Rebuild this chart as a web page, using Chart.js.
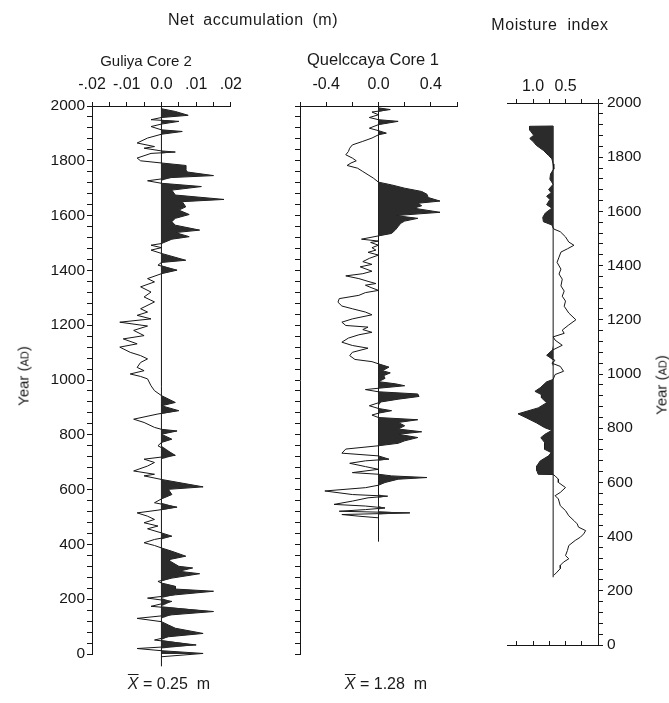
<!DOCTYPE html>
<html>
<head>
<meta charset="utf-8">
<script src="https://cdn.jsdelivr.net/npm/chart.js@4.4.1/dist/chart.umd.min.js"></script>
<style>
  body { margin: 0; background: #fff; width: 669px; height: 703px; position: relative; overflow: hidden;
         font-family: "Liberation Sans", Arial, Helvetica, sans-serif; color: #1a1a1a; }
  canvas { position: absolute; top: 0; }
  .t { position: absolute; white-space: nowrap; transform: translate(-50%, -50%); }
  .rot { transform: translate(-50%, -50%) rotate(-90deg); }
  .sc { font-size: 11px; }
</style>
</head>
<body>
<canvas id="guliya" width="250" height="703" style="left:0"></canvas>
<canvas id="quelccaya" width="230" height="703" style="left:250px"></canvas>
<canvas id="moisture" width="189" height="703" style="left:480px"></canvas>

<div class="t" style="left:253px;top:20px;font-size:16px;letter-spacing:0.5px;word-spacing:4px">Net accumulation (m)</div>
<div class="t" style="left:550px;top:25px;font-size:16px;letter-spacing:0.6px;word-spacing:5px">Moisture index</div>
<div class="t" style="left:146px;top:60px;font-size:15px">Guliya Core 2</div>
<div class="t" style="left:373px;top:59px;font-size:16.5px">Quelccaya Core 1</div>
<div class="t" style="left:169px;top:684px;font-size:16px"><span style="text-decoration:overline;font-style:italic">X</span> = 0.25&nbsp; m</div>
<div class="t" style="left:386px;top:684px;font-size:16px"><span style="text-decoration:overline;font-style:italic">X</span> = 1.28&nbsp; m</div>
<div class="t rot" style="left:23px;top:376px;font-size:15px">Year (<span class="sc">AD</span>)</div>
<div class="t rot" style="left:661px;top:385px;font-size:15px">Year (<span class="sc">AD</span>)</div>

<script>
// Guliya Core 2 net accumulation anomaly (m)
const guliyaYears = [1990, 1980, 1966, 1958, 1950, 1944, 1934, 1925, 1913, 1907, 1897, 1883, 1865, 1852, 1846, 1836, 1832, 1827, 1810, 1800,
  1792, 1783, 1767, 1759, 1746, 1739, 1727, 1718, 1706, 1693, 1675, 1659, 1651, 1632, 1620, 1604, 1590, 1578, 1565, 1547,
  1538, 1523, 1514, 1498, 1492, 1483, 1474, 1462, 1437, 1429, 1419, 1401, 1388, 1370, 1358, 1340, 1321, 1303, 1285, 1260,
  1248, 1236, 1223, 1211, 1197, 1181, 1162, 1150, 1132, 1120, 1101, 1089, 1077, 1064, 1046, 1034, 1022, 1013, 1004, 979,
  961, 943, 918, 906, 888, 876, 857, 845, 827, 820, 814, 802, 784, 772, 760, 725, 711, 699, 686, 668,
  656, 650, 637, 610, 601, 582, 566, 552, 536, 525, 515, 503, 491, 479, 467, 457, 442, 430, 418, 406,
  396, 387, 375, 357, 344, 335, 320, 314, 302, 293, 277, 265, 259, 247, 237, 229, 216, 204, 192, 174,
  155, 143, 130, 118, 106, 94, 75, 63, 51, 33, 20, 12, 2, -10];
const guliyaNet = [0, 0.004, 0.0077, 0, -0.003, 0.005, 0, -0.003, 0, 0.006, 0, -0.004, -0.007, -0.002, -0.005, 0, 0.004, -0.003, -0.007, -0.006,
  0, 0.007, 0.007, 0.0075, 0.015, 0.003, -0.004, 0, 0.0115, 0.003, 0.004, 0.018, 0.006, 0.007, 0.005, 0.008, 0.004, 0.003, 0.004, 0.011,
  0.004, 0.008, 0.003, 0, -0.003, 0, -0.003, 0, 0.007, 0, -0.001, 0.0045, 0, -0.004, -0.002, -0.006, -0.003, -0.005, -0.002, -0.006,
  -0.004, -0.007, -0.003, -0.012, -0.004, -0.008, -0.005, -0.011, -0.007, -0.012, -0.009, -0.006, -0.004, -0.006, -0.007, -0.005, -0.009, -0.006, -0.004, -0.003,
  -0.002, 0, 0.004, 0, 0.005, -0.001, -0.008, -0.005, -0.002, 0, 0.0045, 0, 0.003, 0, -0.001, 0.004, -0.005, -0.002, -0.004, -0.008,
  -0.002, -0.005, 0, 0.012, 0.002, 0.003, 0, -0.002, 0.0045, -0.001, -0.007, -0.004, -0.002, -0.005, -0.001, -0.004, 0, 0.003, -0.002, -0.005,
  -0.002, 0, 0.003, 0.007, 0.002, 0.003, 0.005, 0.009, 0.005, 0.011, 0.003, -0.001, 0, 0.004, 0.004, 0.015, 0.004, -0.004, 0.003, -0.003,
  0.015, 0.003, -0.007, 0, 0.002, 0.004, 0.012, 0.002, -0.002, 0.01, -0.007, 0, 0.012, 0];
const guliyaZeroSpan = [-45, 2000];

// Quelccaya Core 1 net accumulation anomaly (m)
const quelYears = [1993, 1987, 1978, 1968, 1958, 1950, 1944, 1932, 1919, 1910, 1901, 1895, 1883, 1871, 1858, 1846, 1834, 1822, 1810, 1800,
  1792, 1783, 1773, 1761, 1749, 1737, 1722, 1712, 1700, 1688, 1678, 1666, 1653, 1645, 1636, 1627, 1612, 1600, 1590, 1580,
  1572, 1560, 1548, 1535, 1526, 1514, 1507, 1502, 1492, 1483, 1474, 1466, 1456, 1444, 1432, 1422, 1413, 1397, 1388, 1380,
  1370, 1360, 1352, 1346, 1336, 1327, 1319, 1309, 1297, 1284, 1270, 1260, 1248, 1238, 1223, 1211, 1199, 1193, 1184, 1174,
  1165, 1153, 1138, 1126, 1116, 1101, 1089, 1075, 1067, 1059, 1047, 1034, 1026, 1016, 1006, 994, 986, 979, 970, 965,
  957, 949, 940, 930, 920, 906, 896, 888, 879, 872, 863, 855, 845, 833, 821, 811, 802, 790, 778, 769,
  760, 748, 733, 723, 711, 705, 696, 684, 674, 662, 656, 650, 644, 638, 626, 616, 607, 595, 582, 576,
  570, 558, 546, 540, 533, 527, 521, 515, 509, 503, 497];
const quelNet = [0, 0.09, -0.05, 0, -0.07, 0, 0.15, 0, -0.07, 0, 0.06, 0, -0.05, -0.12, -0.2, -0.22, -0.23, -0.25, -0.2, -0.17,
  -0.21, -0.24, -0.16, -0.12, -0.08, -0.04, 0, 0.1, 0.2, 0.33, 0.37, 0.38, 0.47, 0.3, 0.33, 0.27, 0.47, 0.13, 0.3, 0.2,
  0.17, 0.15, 0.13, 0.1, 0, -0.13, 0, -0.06, 0, -0.05, -0.02, -0.08, 0, -0.07, -0.12, -0.05, -0.14, -0.05, -0.12, -0.25,
  -0.15, -0.08, -0.02, -0.1, -0.05, 0, -0.1, -0.15, -0.3, -0.31, -0.28, -0.2, -0.1, -0.05, -0.2, -0.28, -0.25, -0.08, -0.12, -0.05,
  -0.15, -0.23, -0.28, -0.2, -0.08, -0.2, -0.22, -0.18, -0.05, 0, 0.08, 0.03, 0.09, 0.04, 0.05, 0, 0.13, 0.2, 0, -0.1,
  0, 0.3, 0.31, 0.15, 0.02, -0.07, 0, 0.1, 0, -0.05, 0, 0.3, 0.15, 0.2, 0.15, 0.33, 0.15, 0.3, 0.2, 0.15,
  0, -0.25, -0.28, 0, 0.08, -0.1, -0.22, -0.1, 0, -0.2, 0, 0.1, 0.37, 0.15, 0.05, 0, -0.1, -0.41, -0.2, 0.07,
  -0.08, -0.2, -0.34, -0.1, 0.05, -0.1, -0.3, 0.24, -0.28, -0.15, 0];
const quelZeroSpan = [410, 2000];

// Moisture index
const moistYears = [1915, 1914, 1900, 1881, 1869, 1856, 1844, 1825, 1806, 1794, 1775, 1756, 1738, 1719, 1700, 1681, 1669, 1656, 1644, 1625,
  1612, 1594, 1578, 1562, 1550, 1535, 1525, 1506, 1487, 1475, 1462, 1450, 1431, 1412, 1387, 1369, 1350, 1325, 1306, 1287,
  1269, 1250, 1225, 1200, 1181, 1162, 1150, 1137, 1125, 1106, 1087, 1069, 1050, 1040, 1028, 1010, 998, 980, 971, 949,
  936, 924, 912, 894, 875, 853, 838, 820, 802, 792, 777, 765, 747, 722, 710, 698, 679, 661, 643, 630,
  629, 624, 612, 600, 581, 563, 551, 539, 514, 496, 477, 459, 447, 435, 422, 410, 398, 386, 367, 349,
  330, 318, 306, 294, 282, 269, 257];
const moistIndex = [0.69, 1.05, 1.05, 0.99, 1.05, 0.99, 0.95, 0.84, 0.76, 0.71, 0.69, 0.68, 0.73, 0.74, 0.69, 0.76, 0.72, 0.79, 0.74, 0.79,
  0.71, 0.81, 0.85, 0.84, 0.71, 0.68, 0.58, 0.5, 0.45, 0.37, 0.47, 0.57, 0.6, 0.63, 0.57, 0.6, 0.55, 0.57, 0.52, 0.55,
  0.5, 0.52, 0.45, 0.34, 0.45, 0.55, 0.52, 0.69, 0.66, 0.55, 0.71, 0.79, 0.66, 0.71, 0.58, 0.53, 0.66, 0.69, 0.79, 0.89,
  0.97, 0.87, 0.87, 0.79, 0.92, 1.23, 1.1, 0.95, 0.82, 0.71, 0.82, 0.88, 0.82, 0.82, 0.72, 0.76, 0.89, 0.94, 0.94, 0.92,
  0.69, 0.66, 0.61, 0.61, 0.5, 0.58, 0.66, 0.61, 0.58, 0.5, 0.45, 0.37, 0.32, 0.3, 0.19, 0.22, 0.27, 0.35, 0.45, 0.47,
  0.5, 0.45, 0.53, 0.58, 0.58, 0.63, 0.68];
const moistBase = 0.69;
const moistBaseSpan = [250, 1915];

const guliyaTickLabels = { '-20': '-.02', '-10': '-.01', '0': '0.0', '10': '.01', '20': '.02' };
const quelTickLabels = { '-4': '-0.4', '0': '0.0', '4': '0.4' };
const moistTickLabels = { '100': '1.0', '50': '0.5' };

const ink = '#161616';
const shade = '#2b2b2b';
const fontFam = '"Liberation Sans", Arial, Helvetica, sans-serif';

function makePanel(id, o) {
  const fillPts = o.years.map((y, i) => ({ x: Math.max(o.vals[i], o.base), y: y }));
  const linePts = o.years.map((y, i) => ({ x: o.vals[i], y: y }));
  const basePts = o.span.map(y => ({ x: o.base, y: y }));
  const scales = {
    x: {
      type: 'linear', position: 'top', min: o.xMin, max: o.xMax, reverse: !!o.reverse,
      border: { color: ink, width: 1 },
      grid: { drawOnChartArea: false, color: ink, tickLength: 4 },
      ticks: { stepSize: o.xStep, autoSkip: false, includeBounds: false, maxRotation: 0, padding: o.xPad, color: ink,
               font: { family: fontFam, size: 16 },
               callback: v => o.xLabels[String(Math.round(v * o.xMul))] || '' },
      afterFit: s => { s.height = o.top; }
    },
    y: {
      type: 'linear', position: o.yPos, min: 0, max: 2000,
      border: { color: ink, width: 1 },
      grid: { drawOnChartArea: false, color: ink, tickLength: 5 },
      ticks: { stepSize: 40, autoSkip: false, padding: o.yPos === 'right' ? 4 : 2, color: ink,
               font: { family: fontFam, size: 15.5 },
               callback: v => (o.yLabels && v % 200 === 0) ? String(v) : '' },
      afterFit: s => { s.width = o.yWidth; }
    }
  };
  if (o.bottomAxis) {
    // plain axis along year 0, ticks pointing up into the panel
    scales.x2 = {
      type: 'linear', axis: 'x', position: 'bottom', min: o.xMin, max: o.xMax, reverse: !!o.reverse,
      border: { color: ink, width: 1 },
      grid: { drawOnChartArea: false, color: ink, tickLength: -4 },
      ticks: { stepSize: o.xStep, includeBounds: false, callback: () => '' },
      afterFit: s => { s.height = 6; }
    };
  }
  return new Chart(document.getElementById(id), {
    type: 'line',
    data: {
      datasets: [
        { data: fillPts, borderWidth: 0, borderColor: 'transparent', backgroundColor: shade,
          pointRadius: 0, fill: { value: o.base }, clip: false },
        { data: linePts, borderColor: ink, borderWidth: 1, pointRadius: 0, fill: false, clip: false },
        { data: basePts, borderColor: ink, borderWidth: 1, pointRadius: 0, fill: false, clip: false }
      ]
    },
    options: {
      responsive: false,
      animation: false,
      indexAxis: 'y',
      layout: { padding: o.pad },
      plugins: { legend: { display: false }, tooltip: { enabled: false } },
      scales: scales
    }
  });
}

makePanel('guliya', {
  years: guliyaYears, vals: guliyaNet, base: 0, span: guliyaZeroSpan,
  xMin: -0.02, xMax: 0.02, xStep: 0.005, xMul: 1000, xLabels: guliyaTickLabels, xPad: 8,
  top: 106, yPos: 'left', yWidth: 92, yLabels: true,
  pad: { left: 0, right: 18, top: 0, bottom: 49 }
});

makePanel('quelccaya', {
  years: quelYears, vals: quelNet, base: 0, span: quelZeroSpan,
  xMin: -0.6, xMax: 0.6, xStep: 0.2, xMul: 10, xLabels: quelTickLabels, xPad: 8,
  top: 106, yPos: 'left', yWidth: 50, yLabels: false,
  pad: { left: 0, right: 23, top: 0, bottom: 49 }
});

makePanel('moisture', {
  years: moistYears, vals: moistIndex, base: moistBase, span: moistBaseSpan,
  xMin: 0, xMax: 1.4, xStep: 0.25, xMul: 100, xLabels: moistTickLabels, xPad: 3, reverse: true,
  top: 103, yPos: 'right', yWidth: 71, yLabels: true, bottomAxis: true,
  pad: { left: 27, right: 0, top: 0, bottom: 52 }
});
</script>
</body>
</html>
